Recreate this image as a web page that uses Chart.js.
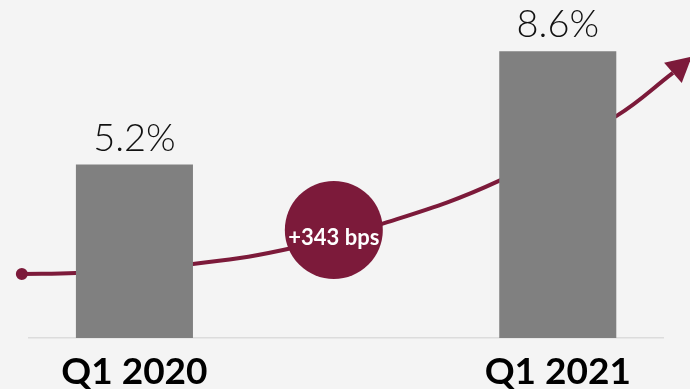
<!DOCTYPE html>
<html>
<head>
<meta charset="utf-8">
<script src="https://cdn.jsdelivr.net/npm/chart.js@4"></script>
<style>
    html, body { margin: 0; padding: 0; background: #f4f4f4; }
    #wrap { width: 690px; height: 389px; }
</style>
</head>
<body>
<div id="wrap"><canvas id="chart"></canvas></div>
<script>
// categories (empty slot in the middle keeps the gap between the two bars)
const categories = ["Q1 2020", "", "Q1 2021"];
const shareValues = [5.2, null, 8.6];
const shareLabels = ["5.2%", "", "8.6%"];

// trend curve, x in bar units (0 = Q1 2020, 1 = Q1 2021), y in %
const curveX = [-0.266, -0.138, 0.138, 0.351, 0.592, 0.861, 1.139, 1.272];
const curveY = [1.92, 1.95, 2.22, 2.64, 3.45, 4.71, 6.66, 7.95];

// bubble with the change label
const changeX = 0.471;
const changeY = 3.24;
const changeText = "+343 bps";

const MAROON = "#7c1a3a";
const BAR_GREY = "#808080";

/**
 * Value labels above bars, text in the bubble, arrow head on the curve.
 */
const annotations = {
    id: "annotations",
    afterDatasetsDraw(chart) {
        const ctx = chart.ctx;
        ctx.save();

        // labels above bars
        const bars = chart.getDatasetMeta(0).data;
        ctx.font = "300 38px Lato";
        ctx.fillStyle = "#111";
        ctx.textAlign = "center";
        ctx.textBaseline = "alphabetic";
        bars.forEach((bar, i) => {
            if (shareValues[i] == null) return;
            ctx.fillText(shareLabels[i], bar.x, bar.y - 14);
        });

        // arrow head at the end of the curve
        const pts = chart.getDatasetMeta(1).data;
        const end = pts[pts.length - 1];
        const prev = pts[pts.length - 2];
        const ang = Math.atan2(end.y - prev.y, end.x - prev.x) - 0.06;
        const len = 25, half = 13.5;
        ctx.fillStyle = MAROON;
        ctx.beginPath();
        ctx.moveTo(end.x + Math.cos(ang) * len, end.y + Math.sin(ang) * len);
        ctx.lineTo(end.x - Math.sin(ang) * half, end.y + Math.cos(ang) * half);
        ctx.lineTo(end.x + Math.sin(ang) * half, end.y - Math.cos(ang) * half);
        ctx.closePath();
        ctx.fill();

        // text in the bubble
        const bub = chart.getDatasetMeta(2).data[0];
        ctx.font = "bold 22px Lato";
        ctx.fillStyle = "#fff";
        ctx.fillText(changeText, bub.x, bub.y + 15);

        ctx.restore();
    }
};

function initChart(ctx) {
    new Chart(ctx, {
        type: "bar",
        data: {
            labels: categories,
            datasets: [{
                type: "bar",
                data: shareValues,
                backgroundColor: BAR_GREY,
                barPercentage: 0.553,
                categoryPercentage: 1,
                grouped: false,
                order: 0
            }, {
                type: "line",
                xAxisID: "xc",
                data: curveX.map((x, i) => ({ x: x, y: curveY[i] })),
                borderColor: MAROON,
                borderWidth: 4,
                tension: 0.4,
                // start dot only
                pointRadius: curveX.map((x, i) => i === 0 ? 4.5 : 0),
                pointBackgroundColor: MAROON,
                pointBorderColor: MAROON,
                pointBorderWidth: 3,
                clip: false,
                order: 2
            }, {
                type: "bubble",
                xAxisID: "xc",
                data: [{ x: changeX, y: changeY, r: 49 }],
                backgroundColor: MAROON,
                borderWidth: 0,
                clip: false,
                order: -1
            }]
        },
        options: {
            responsive: true,
            maintainAspectRatio: false,
            animation: false,
            layout: {
                autoPadding: false,
                padding: { left: 28.6, right: 26.4, top: 4.5, bottom: 0 }
            },
            plugins: {
                legend: { display: false },
                tooltip: { enabled: false }
            },
            scales: {
                x: {
                    grid: { display: false, drawTicks: false },
                    border: { display: true, color: "#dcdcdc", width: 1.5 },
                    ticks: {
                        color: "#000",
                        font: { family: "Lato", size: 37, weight: "bold" },
                        padding: 12,
                        maxRotation: 0,
                        autoSkip: false
                    },
                    afterFit(scale) { scale.height = 51; }
                },
                xc: {
                    type: "linear",
                    display: false,
                    offset: false,
                    grid: { offset: false },
                    min: -0.25,
                    max: 1.25
                },
                y: {
                    display: false,
                    min: 0,
                    max: 10
                }
            }
        },
        plugins: [annotations]
    });
}

initChart(document.getElementById("chart"));
</script>
</body>
</html>
